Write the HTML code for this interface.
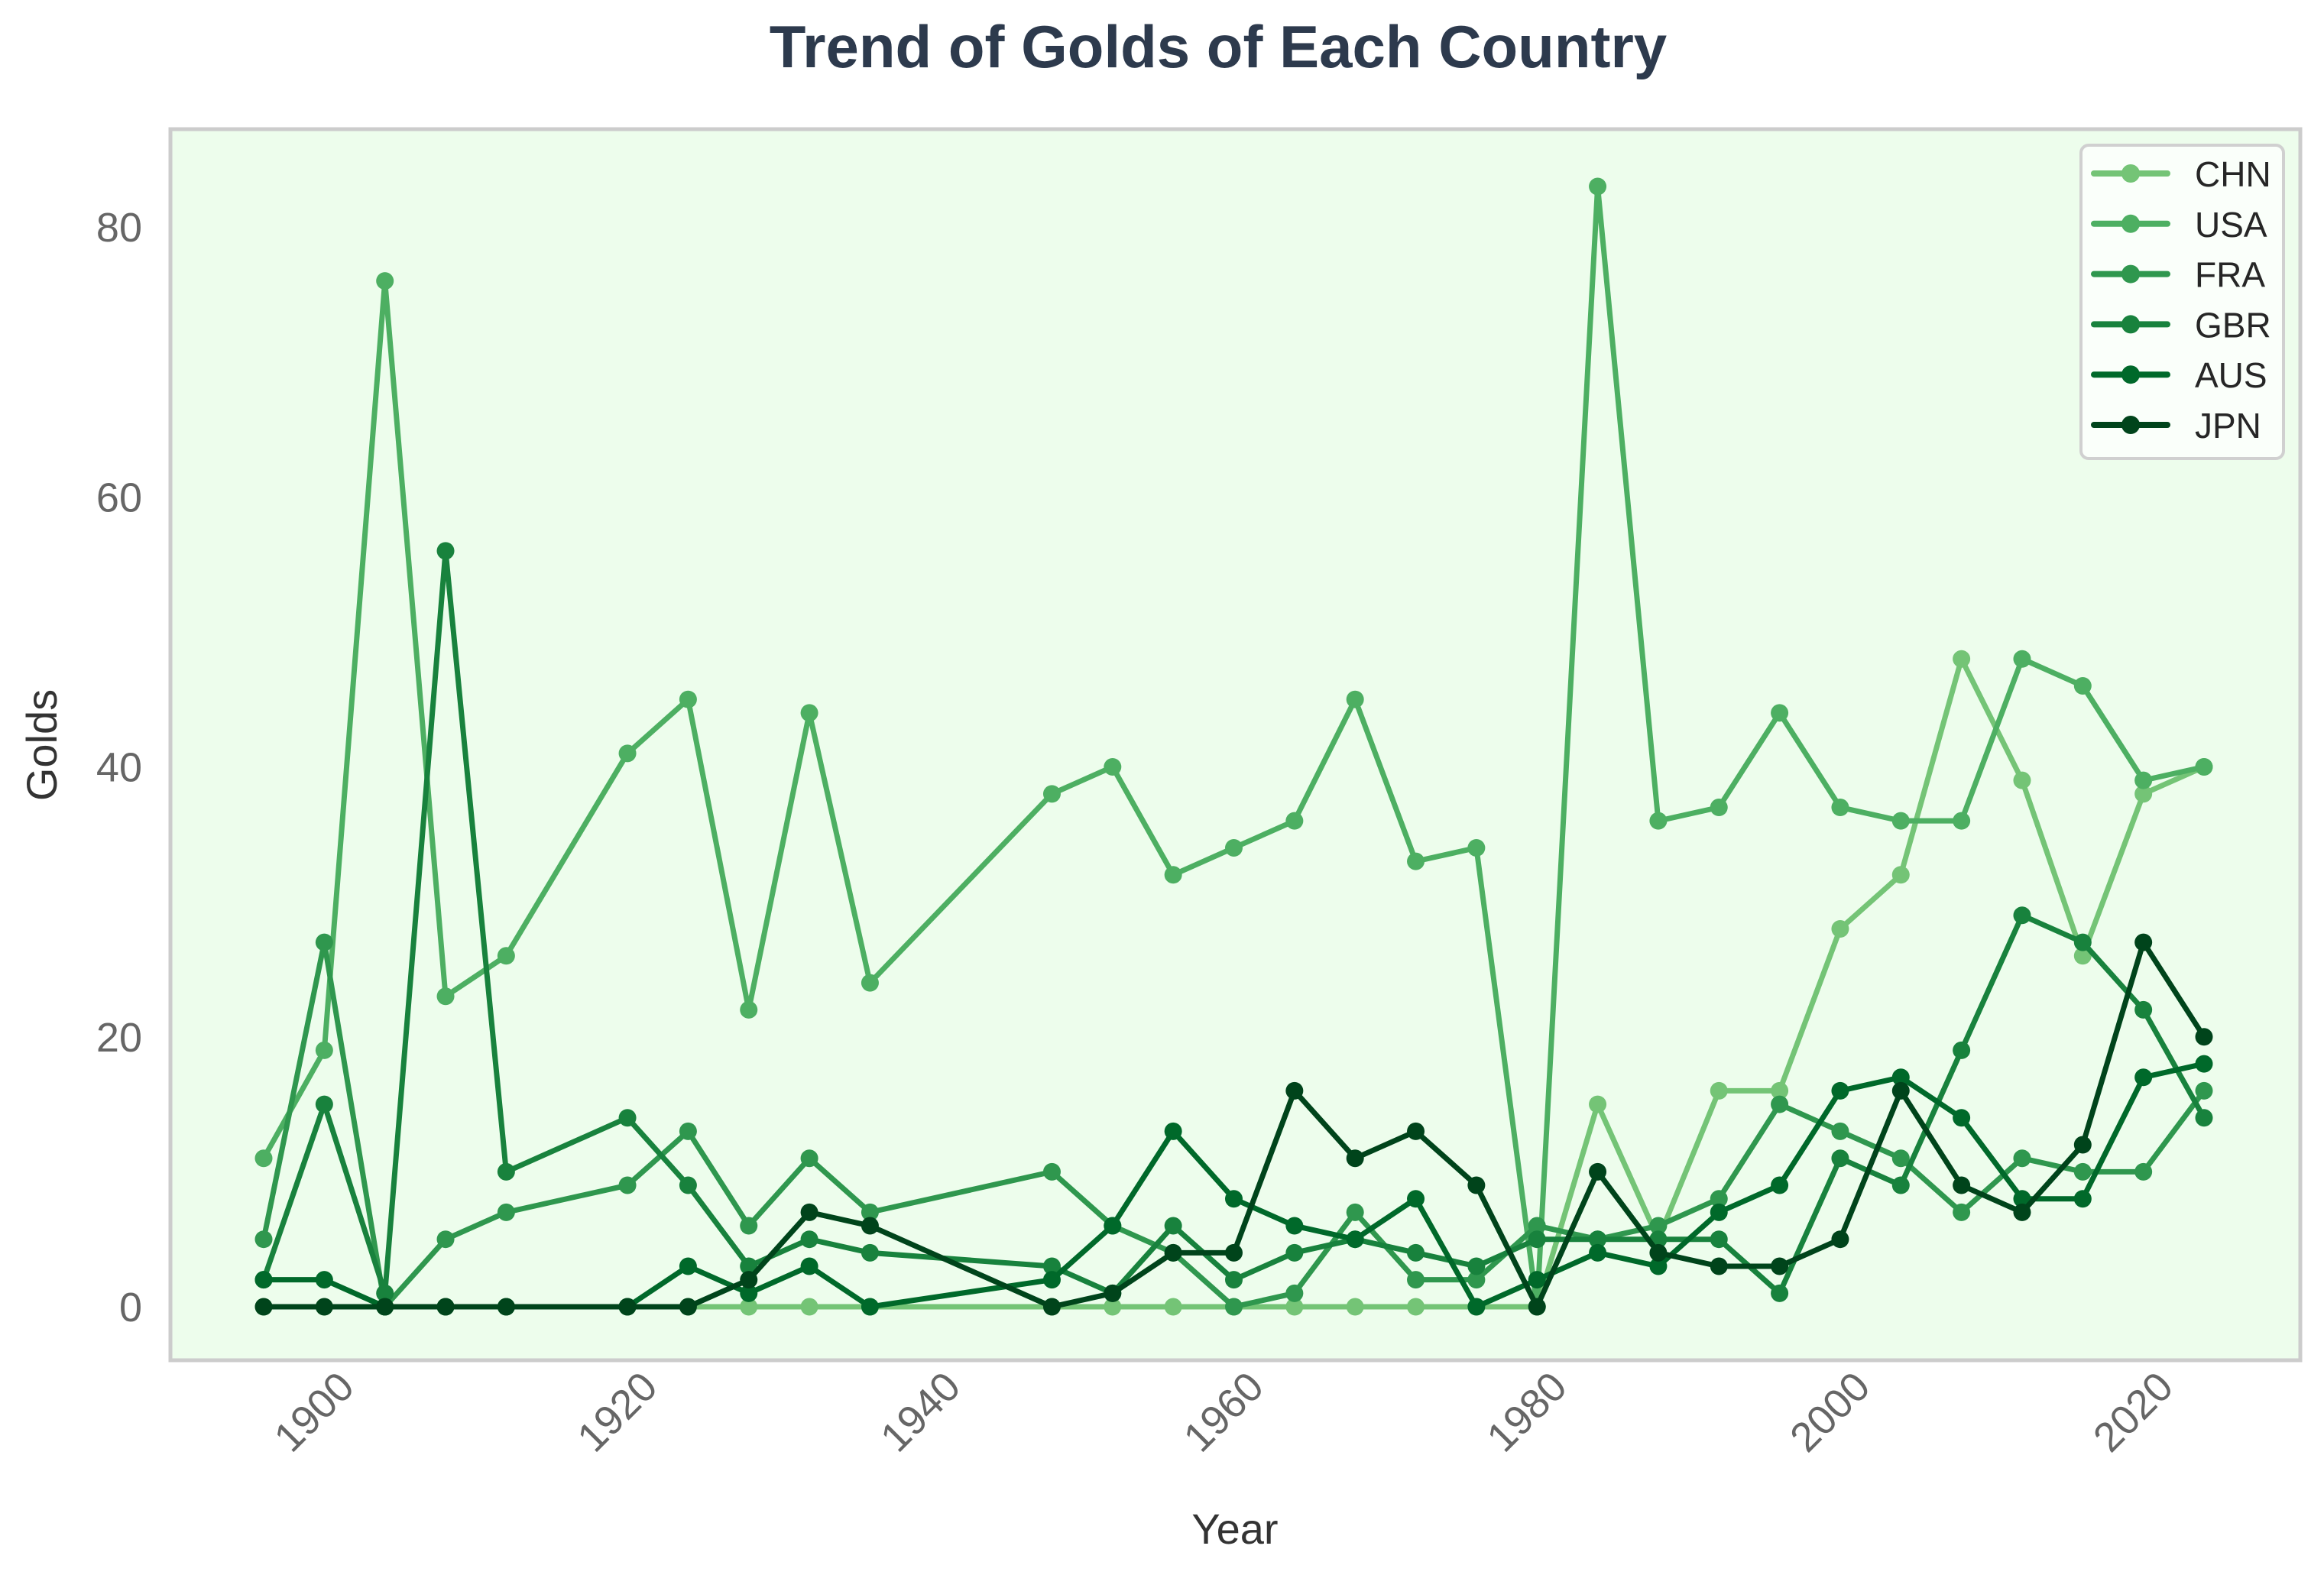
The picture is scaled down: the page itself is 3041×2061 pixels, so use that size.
<!DOCTYPE html>
<html><head><meta charset="utf-8"><style>
html,body{margin:0;padding:0;background:#fff}
svg{display:block}
text{font-family:"Liberation Sans",Arial,sans-serif}
</style></head><body>
<svg id="chart" width="3041" height="2061" viewBox="0 0 3041 2061" xmlns="http://www.w3.org/2000/svg">
<rect x="0" y="0" width="3041" height="2061" fill="#fff"/>
<text x="1594" y="88" text-anchor="middle" font-size="78" font-weight="bold" fill="#2d3a4d">Trend of Golds of Each Country</text>
<rect x="223" y="169" width="2787" height="1611" fill="#edfdec" stroke="#cccccc" stroke-width="5"/>
<g id="yticks"></g>
<g id="xticks"></g>
<g id="series"></g>
<text transform="translate(74,975) rotate(-90)" text-anchor="middle" font-size="56" fill="#333">Golds</text>
<text x="1616" y="2020" text-anchor="middle" font-size="56" fill="#333">Year</text>
<g id="legend">
<rect x="2723" y="190" width="265" height="410" rx="10" fill="#fafffa" stroke="#d0d0d0" stroke-width="4"/>
</g>
</svg>
<script>
const years=[1896,1900,1904,1908,1912,1920,1924,1928,1932,1936,1948,1952,1956,1960,1964,1968,1972,1976,1980,1984,1988,1992,1996,2000,2004,2008,2012,2016,2020,2024];
const countries=["CHN","USA","FRA","GBR","AUS","JPN"];
const CHN=[0,0,0,0,0,0,0,0,0,0,0,0,0,0,0,0,0,0,0,15,5,16,16,28,32,48,39,26,38,40];
const USA=[11,19,76,23,26,41,45,22,44,24,38,40,32,34,36,45,33,34,0,83,36,37,44,37,36,36,48,46,39,40];
const FRA=[5,27,0,5,7,9,13,6,11,7,10,6,4,0,1,7,2,2,6,5,6,8,15,13,11,7,11,10,10,16];
const GBR=[2,15,1,56,10,14,9,3,5,4,3,1,6,2,4,5,4,3,5,5,5,5,1,11,9,19,29,27,22,14];
const AUS=[2,2,0,0,0,0,3,1,3,0,2,6,13,8,6,5,8,0,2,4,3,7,9,16,17,14,8,8,17,18];
const JPN=[0,0,0,0,0,0,0,2,7,6,0,1,4,4,16,11,13,9,0,10,4,3,3,5,16,9,7,12,27,20];
const yTicks=[0,20,40,60,80];
const xTicks=[1900,1920,1940,1960,1980,2000,2020];
const colors=["#74c476","#4daf62","#2f974e","#18823d","#00692a","#00441b"];
const seriesData=[CHN,USA,FRA,GBR,AUS,JPN];
const NS="http://www.w3.org/2000/svg";
function xs(v){return 345+(v-1896)*(2884-345)/128;}
function ys(v){return 1710-v*(1710-297)/80;}
function mk(tag,attrs,parent){const e=document.createElementNS(NS,tag);for(const k in attrs)e.setAttribute(k,attrs[k]);parent.appendChild(e);return e;}
const yg=document.getElementById('yticks');
yTicks.forEach(t=>{const e=mk('text',{x:186,y:ys(t)+19,'text-anchor':'end','font-size':54,fill:'#666'},yg);


e.textContent=t;});
const xg=document.getElementById('xticks');
xTicks.forEach(t=>{const x=xs(t)+42,y=1818;const e=mk('text',{x:x,y:y,'text-anchor':'end','font-size':54,fill:'#666',transform:`rotate(-45 ${x} ${y})`},xg);


e.textContent=t;});
const sg=document.getElementById('series');
seriesData.forEach((arr,i)=>{
 const g=mk('g',{},sg);
 
 
 const pts=arr.map((v,j)=>xs(years[j])+','+ys(v)).join(' ');
 const pl=mk('polyline',{points:pts,fill:'none',stroke:colors[i],'stroke-width':7,'stroke-linejoin':'round'},g);
 
 
 arr.forEach((v,j)=>{const c=mk('circle',{cx:xs(years[j]),cy:ys(v),r:11.5,fill:colors[i]},g);
 
 });
});
const lg=document.getElementById('legend');
countries.forEach((c,i)=>{const y=227+i*65.8;
 const g=mk('g',{},lg);
 
 
 mk('line',{x1:2740,x2:2836,y1:y,y2:y,stroke:colors[i],'stroke-width':8,'stroke-linecap':'round'},g);
 mk('circle',{cx:2788,cy:y,r:12,fill:colors[i]},g);
 const t=mk('text',{x:2872,y:y+17,'font-size':46,fill:'#262626'},g);
 t.textContent=c;});
</script>
</body></html>
